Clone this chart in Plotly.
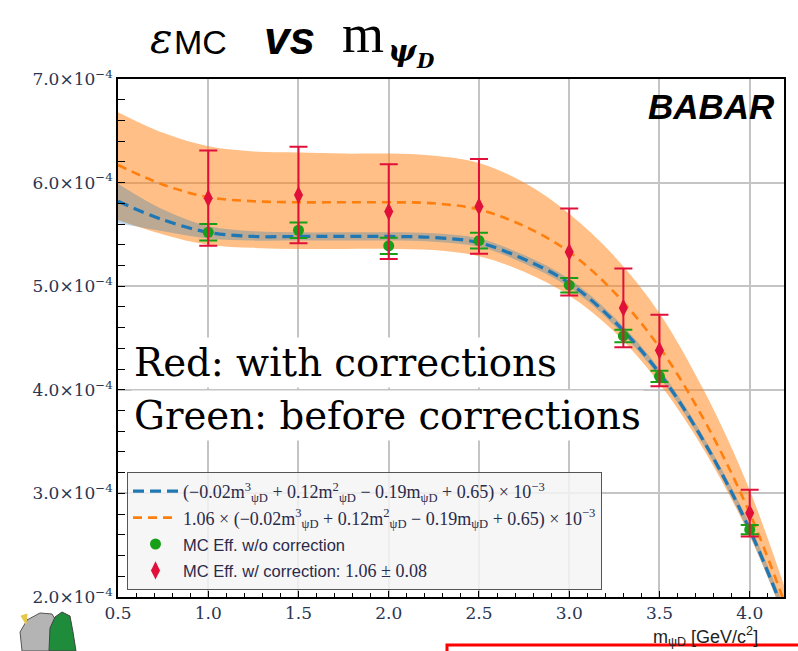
import plotly.graph_objects as go

# ---------------- data (efficiency values in units of 1e-4) ----------------
SCALE = 1e-4
mass_points = [1.0, 1.5, 2.0, 2.5, 3.0, 3.3, 3.5, 4.0]
eff_green = [5.52, 5.54, 5.39, 5.44, 5.01, 4.52, 4.13, 2.65]
err_green = [0.08, 0.075, 0.078, 0.077, 0.07, 0.06, 0.055, 0.045]
eff_red = [5.85, 5.88, 5.72, 5.77, 5.33, 4.79, 4.38, 2.81]
err_red = [0.46, 0.465, 0.457, 0.457, 0.42, 0.38, 0.345, 0.225]

curve_m = [0.5, 0.75, 1.0, 1.25, 1.5, 1.75, 2.0, 2.25, 2.5, 2.75, 3.0, 3.25, 3.5, 3.75, 4.0, 4.25]
fit_blue = [5.82, 5.64, 5.52, 5.48, 5.48, 5.48, 5.48, 5.47, 5.42, 5.26, 5.03, 4.66, 4.16, 3.49, 2.65, 1.58]
blue_hi = [5.99, 5.74, 5.58, 5.53, 5.52, 5.52, 5.52, 5.51, 5.46, 5.30, 5.07, 4.70, 4.20, 3.53, 2.70, 1.64]
blue_lo = [5.61, 5.53, 5.46, 5.44, 5.44, 5.44, 5.44, 5.43, 5.38, 5.22, 4.99, 4.62, 4.12, 3.45, 2.60, 1.52]
fit_orange = [6.17, 5.98, 5.86, 5.82, 5.81, 5.81, 5.81, 5.80, 5.74, 5.58, 5.33, 4.94, 4.41, 3.70, 2.81, 1.67]
orange_hi = [6.68, 6.48, 6.35, 6.30, 6.29, 6.28, 6.28, 6.26, 6.19, 6.00, 5.70, 5.29, 4.74, 3.98, 3.03, 1.80]
orange_lo = [5.64, 5.50, 5.40, 5.37, 5.36, 5.36, 5.36, 5.35, 5.29, 5.14, 4.91, 4.56, 4.06, 3.41, 2.59, 1.54]

y_ticks = [2, 3, 4, 5, 6, 7]
y_ticktext = [f"{v:.1f}×10<sup>−4</sup>" for v in y_ticks]
x_ticks = [0.5, 1.0, 1.5, 2.0, 2.5, 3.0, 3.5, 4.0]

SANS = "font-family:Liberation Sans;font-size:16.5px"
legend_blue = ("(−0.02m<sup>3</sup><sub>ψD</sub> + 0.12m<sup>2</sup><sub>ψD</sub>"
               " − 0.19m<sub>ψD</sub> + 0.65) × 10<sup>−3</sup>")
legend_orange = "1.06 × " + legend_blue
legend_green = f"<span style='{SANS}'>MC Eff. w/o correction</span>"
legend_red = f"<span style='{SANS}'>MC Eff. w/ correction: </span>1.06 ± 0.08"

def sc(vals):
    return [v * SCALE for v in vals]

# ---------------- geometry helpers (pixel -> paper) ----------------
L, R, T, B = 118, 784, 79, 597
W, H = 798, 651
def fx(px):
    return (px - L) / (R - L)
def fy(py):
    return (B - py) / (B - T)
def ppath(points):
    return "M " + " L ".join(f"{fx(x):.4f},{fy(y):.4f}" for x, y in points) + " Z"

fig = go.Figure()

# orange uncertainty band
fig.add_trace(go.Scatter(x=curve_m, y=sc(orange_lo), mode="lines", line=dict(width=0, shape="spline"),
                         showlegend=False, hoverinfo="skip"))
fig.add_trace(go.Scatter(x=curve_m, y=sc(orange_hi), mode="lines", line=dict(width=0, shape="spline"),
                         fill="tonexty", fillcolor="rgba(255,127,14,0.5)", showlegend=False, hoverinfo="skip"))
# blue uncertainty band
fig.add_trace(go.Scatter(x=curve_m, y=sc(blue_lo), mode="lines", line=dict(width=0, shape="spline"),
                         showlegend=False, hoverinfo="skip"))
fig.add_trace(go.Scatter(x=curve_m, y=sc(blue_hi), mode="lines", line=dict(width=0, shape="spline"),
                         fill="tonexty", fillcolor="rgba(31,119,180,0.3)", showlegend=False, hoverinfo="skip"))

# fit curves
fig.add_trace(go.Scatter(x=curve_m, y=sc(fit_blue), mode="lines", name=legend_blue,
                         line=dict(color="#1f77b4", width=3.2, dash="11px,6px", shape="spline")))
fig.add_trace(go.Scatter(x=curve_m, y=sc(fit_orange), mode="lines", name=legend_orange,
                         line=dict(color="#ff7f0e", width=2.6, dash="9px,6px", shape="spline")))

# data points
fig.add_trace(go.Scatter(x=mass_points, y=sc(eff_green), mode="markers", name=legend_green,
                         marker=dict(symbol="circle", size=11, color="#17a017"),
                         error_y=dict(type="data", array=sc(err_green), color="#17a017",
                                      thickness=2, width=9)))
fig.add_trace(go.Scatter(x=mass_points, y=sc(eff_red), mode="markers", name=legend_red,
                         marker=dict(symbol="diamond-tall", size=13, color="#e0103a"),
                         error_y=dict(type="data", array=sc(err_red), color="#e0103a",
                                      thickness=2, width=9)))

tick_font = dict(family="DejaVu Serif", size=17, color="#2b3550")

fig.update_xaxes(range=[0.5, 4.19], tickvals=x_ticks, ticktext=[f"{v:.1f}" for v in x_ticks],
                 ticks="inside", ticklen=6, tickwidth=1.3, tickcolor="black",
                 showline=True, linecolor="black", linewidth=1.5, mirror=True,
                 showgrid=True, gridcolor="#c4c4c4", gridwidth=1.5, zeroline=False,
                 tickfont=tick_font,
                 minor=dict(dtick=0.1, tick0=0.5, ticks="inside", ticklen=4, tickcolor="black",
                            showgrid=False))
fig.update_yaxes(range=[2e-4, 7e-4], tickvals=sc(y_ticks), ticktext=y_ticktext,
                 ticks="inside", ticklen=7, tickwidth=1.3, tickcolor="black",
                 showline=True, linecolor="black", linewidth=1.5, mirror=True,
                 showgrid=True, gridcolor="#c4c4c4", gridwidth=1.5, zeroline=False,
                 tickfont=tick_font, ticklabelstandoff=0,
                 minor=dict(dtick=0.2e-4, tick0=2e-4, ticks="inside", ticklen=7, tickcolor="black",
                            showgrid=False))

annotations = [
    # title pieces
    dict(text="<i>ε</i>", x=fx(148), y=fy(38), font=dict(family="DejaVu Serif", size=42, color="black")),
    dict(text="MC", x=fx(172), y=fy(42), font=dict(family="Liberation Sans", size=34, color="black")),
    dict(text="<b><i>vs</i></b>", x=fx(262), y=fy(38), font=dict(family="Liberation Sans", size=46, color="black")),
    dict(text="m", x=fx(340), y=fy(34), font=dict(family="Liberation Serif", size=54, color="black")),
    dict(text="<b><i>ψ</i></b>", x=fx(386), y=fy(50), font=dict(family="DejaVu Serif", size=30, color="black")),
    dict(text="<b><i>D</i></b>", x=fx(414), y=fy(61), font=dict(family="DejaVu Serif", size=20, color="black")),
    # BaBar logo
    dict(text="<b><i>BABAR</i></b>", x=fx(777), xanchor="right", y=fy(106),
         font=dict(family="Liberation Sans", size=35, color="black")),
    # text notes
    dict(text="Red: with corrections", x=fx(131), y=fy(362), bgcolor="white", borderpad=2,
         font=dict(family="DejaVu Serif", size=38.7, color="black")),
    dict(text="Green: before corrections", x=fx(131), y=fy(416), bgcolor="white", borderpad=2,
         font=dict(family="DejaVu Serif", size=38.7, color="black")),
    # x-axis title
    dict(text="m<sub>ψD</sub> [GeV/c<sup>2</sup>]", x=fx(760), xanchor="right", y=fy(636),
         font=dict(family="Liberation Sans", size=18, color="#222222")),
]
for a in annotations:
    a.setdefault("xref", "paper")
    a.setdefault("yref", "paper")
    a.setdefault("xanchor", "left")
    a.setdefault("yanchor", "middle")
    a.setdefault("showarrow", False)

# small mascot-like logo fragment at the bottom-left corner of the slide
logo_shapes = [
    dict(type="path", xref="paper", yref="paper",
         path=ppath([(22, 651), (20, 632), (27, 620), (40, 613), (52, 614), (58, 624), (57, 651)]),
         fillcolor="#b4b4b4", line=dict(color="#555555", width=1)),
    dict(type="path", xref="paper", yref="paper",
         path=ppath([(49, 651), (50, 628), (55, 617), (62, 612), (70, 616), (73, 632), (76, 651)]),
         fillcolor="#1e8c3a", line=dict(color="#444444", width=1)),
    dict(type="path", xref="paper", yref="paper",
         path=ppath([(21, 616), (27, 614), (26, 624)]),
         fillcolor="#e6c84a", line=dict(color="#e6c84a", width=1)),
]

fig.update_layout(
    width=W, height=H,
    margin=dict(l=L, r=W - R, t=T, b=H - B),
    paper_bgcolor="white", plot_bgcolor="white",
    annotations=annotations,
    showlegend=True,
    legend=dict(x=fx(127), y=fy(590), xanchor="left", yanchor="bottom", traceorder="normal",
                bgcolor="rgba(245,245,245,0.85)", bordercolor="#555555", borderwidth=1,
                font=dict(family="Liberation Serif", size=18, color="#2a2a4a"),
                itemwidth=45, tracegroupgap=0),
    shapes=[
        dict(type="rect", xref="paper", yref="paper", x0=fx(447), x1=fx(805), y0=fy(660), y1=fy(645),
             line=dict(color="red", width=3), fillcolor="rgba(0,0,0,0)"),
    ] + logo_shapes,
)

fig.write_html("out.html")
